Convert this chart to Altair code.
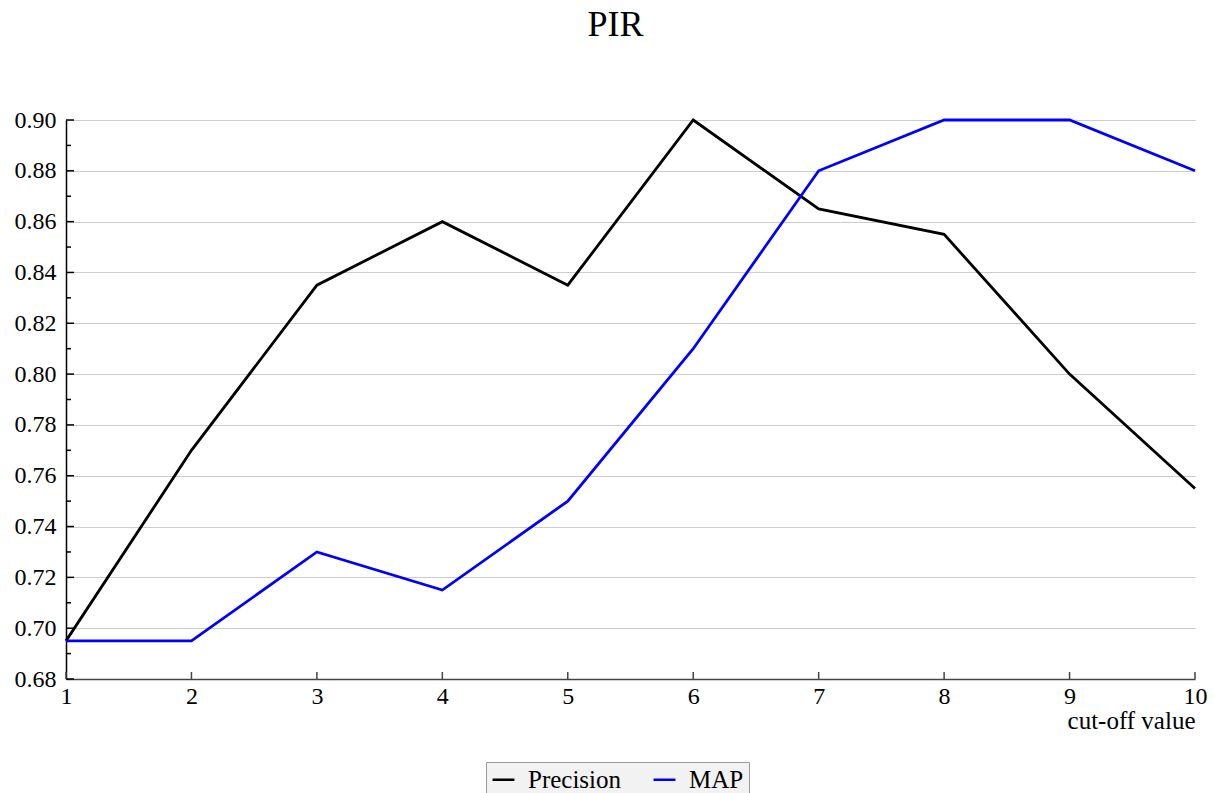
import altair as alt
import pandas as pd

cutoff = [1, 2, 3, 4, 5, 6, 7, 8, 9, 10]
precision = [0.695, 0.77, 0.835, 0.86, 0.835, 0.90, 0.865, 0.855, 0.80, 0.755]
map_vals = [0.695, 0.695, 0.73, 0.715, 0.75, 0.81, 0.88, 0.90, 0.90, 0.88]
series_names = ["Precision", "MAP"]
series_colors = ["#000000", "#0000ff"]
y_major = [0.68, 0.70, 0.72, 0.74, 0.76, 0.78, 0.80, 0.82, 0.84, 0.86, 0.88, 0.90]
y_minor = [0.69, 0.71, 0.73, 0.75, 0.77, 0.79, 0.81, 0.83, 0.85, 0.87, 0.89]

FONT = "Liberation Serif"
W, H = 1129, 559

df = pd.DataFrame({
    "cutoff": cutoff * 2,
    "value": precision + map_vals,
    "series": ["Precision"] * len(cutoff) + ["MAP"] * len(cutoff),
})

xs = alt.Scale(domain=[1, 10], nice=False, zero=False)
ys = alt.Scale(domain=[0.68, 0.90], nice=False, zero=False)

x_axis = alt.Axis(values=cutoff, format="d", ticks=False, grid=False,
                  labelFlush=False, labelPadding=5,
                  title="cut-off value", titleAnchor="end", titleAlign="right",
                  titlePadding=0, domainColor="#444444", domainWidth=1.5)
y_axis = alt.Axis(values=y_major, format=".2f", ticks=False, grid=True,
                  gridColor="#cccccc", gridWidth=1, labelPadding=10,
                  title=None, domainColor="#000000", domainWidth=1.5)

lines = alt.Chart(df).mark_line(strokeWidth=2.8).encode(
    x=alt.X("cutoff:Q", scale=xs, axis=x_axis),
    y=alt.Y("value:Q", scale=ys, axis=y_axis),
    color=alt.Color("series:N",
                    scale=alt.Scale(domain=series_names, range=series_colors),
                    sort=series_names,
                    legend=alt.Legend(title=None, orient="none", direction="horizontal",
                                      legendX=420, legendY=642,
                                      symbolType="stroke", symbolStrokeWidth=2.5,
                                      symbolSize=480, labelFontSize=25,
                                      labelFont=FONT, labelOffset=12, padding=5,
                                      fillColor="#f2f2f2", strokeColor="#999999",
                                      columnPadding=26)),
)

ymaj_df = pd.DataFrame({"v": y_major})
ymin_df = pd.DataFrame({"v": y_minor})
x_df = pd.DataFrame({"c": cutoff})

ymaj_ticks = alt.Chart(ymaj_df).mark_rule(color="#000000", strokeWidth=1.5).encode(
    y=alt.Y("v:Q", scale=ys, axis=y_axis), x=alt.value(0), x2=alt.value(8))
ymin_ticks = alt.Chart(ymin_df).mark_rule(color="#000000", strokeWidth=1.5).encode(
    y=alt.Y("v:Q", scale=ys, axis=y_axis), x=alt.value(0), x2=alt.value(5))
x_ticks = alt.Chart(x_df).mark_rule(color="#444444", strokeWidth=1.5).encode(
    x=alt.X("c:Q", scale=xs, axis=x_axis), y=alt.value(H), y2=alt.value(H - 7))

chart = alt.layer(lines, ymaj_ticks, ymin_ticks, x_ticks).properties(
    width=W, height=H,
    title=alt.Title("PIR", font=FONT, fontSize=36, fontWeight="normal",
                    anchor="middle", offset=64, dx=-15, color="#000000"),
    autosize=alt.AutoSizeParams(type="none"),
    padding={"left": 58, "top": 112, "right": 12, "bottom": 140},
).configure_axis(
    labelFont=FONT, labelFontSize=24, labelColor="#000000",
    titleFont=FONT, titleFontSize=25, titleFontWeight="normal", titleColor="#000000",
).configure_view(stroke=None)

chart.save("out.html", embed_options={"renderer": "svg", "actions": False})
